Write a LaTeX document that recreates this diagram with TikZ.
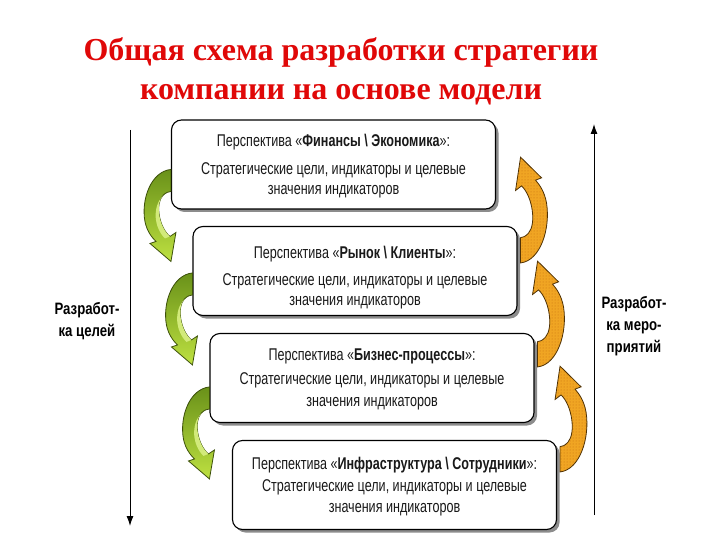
\documentclass[tikz,border=0pt]{standalone}
\usepackage{fontspec}
\setmainfont{Liberation Sans}
\newfontfamily\narfont[FakeStretch=0.74]{Liberation Sans}
\newfontfamily\sidefont[FakeStretch=0.8]{Liberation Sans}
\newfontfamily\titlefont{Liberation Serif}
\usetikzlibrary{arrows.meta,calc,shadows,patterns}
\definecolor{titlered}{RGB}{224,8,8}
\definecolor{gdark}{RGB}{60,80,10}
\definecolor{gA}{RGB}{105,145,25}
\definecolor{gB}{RGB}{190,225,65}
\definecolor{oA}{RGB}{240,165,35}
\definecolor{oDot}{RGB}{200,110,15}
\definecolor{oLine}{RGB}{80,50,5}
\definecolor{txt}{RGB}{25,25,25}
\tikzset{
  persp/.style={draw=black, line width=1.1pt, rounded corners=10pt, fill=white,
    minimum width=324pt, minimum height=89pt, inner sep=0pt,
    drop shadow={shadow xshift=3pt, shadow yshift=-3pt, fill=black!45, opacity=1}},
  boxtext/.style={align=center, text=txt, anchor=base, inner sep=0pt, font=\narfont\fontsize{17}{20}\selectfont},
  sidelabel/.style={align=center, text=black, font=\sidefont\bfseries\fontsize{16.5}{22}\selectfont},
  axisarrow/.style={line width=1pt, -{Latex[length=10pt,width=7pt]}},
  gnarrow/.pic={
    \shade[draw=gdark, line width=0.8pt, top color=gA, bottom color=gB]
      (0,0) .. controls (-20,2) and (-30,30) .. (-26,52)
      .. controls (-24,62) and (-19,68) .. (-15,72) -- (-21,74) -- (0,92) -- (5,63) -- (-1,67)
      .. controls (-12,58) and (-16,34) .. (-8,26) .. controls (-5,23) and (-2,22) .. (0,22) -- cycle;
    \fill[gB!70!white]
      (-8,26) .. controls (-16,34) and (-12,58) .. (-1,67) -- (-6,69)
      .. controls (-17,58) and (-19,38) .. (-8,26) -- cycle;
  },
  orarrow/.pic={
    \begin{scope}[rotate=180, yscale=1.15, xshift=-3pt]
    \fill[oA]
      (0,0) .. controls (-20,2) and (-30,30) .. (-26,52)
      .. controls (-24,62) and (-19,68) .. (-15,72) -- (-21,74) -- (0,92) -- (5,63) -- (-1,67)
      .. controls (-12,58) and (-16,34) .. (-8,26) .. controls (-5,23) and (-2,22) .. (0,22) -- cycle;
    \fill[pattern=dots, pattern color=oDot]
      (0,0) .. controls (-20,2) and (-30,30) .. (-26,52)
      .. controls (-24,62) and (-19,68) .. (-15,72) -- (-21,74) -- (0,92) -- (5,63) -- (-1,67)
      .. controls (-12,58) and (-16,34) .. (-8,26) .. controls (-5,23) and (-2,22) .. (0,22) -- cycle;
    \draw[oLine, line width=0.8pt]
      (0,0) .. controls (-20,2) and (-30,30) .. (-26,52)
      .. controls (-24,62) and (-19,68) .. (-15,72) -- (-21,74) -- (0,92) -- (5,63) -- (-1,67)
      .. controls (-12,58) and (-16,34) .. (-8,26) .. controls (-5,23) and (-2,22) .. (0,22) -- cycle;
    \end{scope}
  }
}
\begin{document}
\begin{tikzpicture}[x=1pt, y=-1pt]
\useasboundingbox (0,0) rectangle (720,540);
\fill[white] (0,0) rectangle (720,540);

% title
\node[text=titlered, font=\titlefont\bfseries\fontsize{32}{39}\selectfont, align=center, anchor=base]
  (title) at (341,100) {Общая схема разработки стратегии\\компании на основе модели};

% boxes
\node[persp] (b1) at (333.5,164.5) {};
\node[persp] (b2) at (355,271) {};
\node[persp] (b3) at (372,378) {};
\node[persp] (b4) at (394.5,485) {};

\node[boxtext] (t1a) at ($(b1.north)+(0,27)$) {Перспектива «\textbf{Финансы \textbackslash{} Экономика}»:};
\node[boxtext] (t1b) at ($(b1.north)+(0,55)$) {Стратегические цели, индикаторы и целевые};
\node[boxtext] (t1c) at ($(b1.north)+(0,75)$) {значения индикаторов};
\node[boxtext] (t2a) at ($(b2.north)+(0,33)$) {Перспектива «\textbf{Рынок \textbackslash{} Клиенты}»:};
\node[boxtext] (t2b) at ($(b2.north)+(0,60)$) {Стратегические цели, индикаторы и целевые};
\node[boxtext] (t2c) at ($(b2.north)+(0,80)$) {значения индикаторов};
\node[boxtext] (t3a) at ($(b3.north)+(0,28)$) {Перспектива «\textbf{Бизнес-процессы}»:};
\node[boxtext] (t3b) at ($(b3.north)+(0,52)$) {Стратегические цели, индикаторы и целевые};
\node[boxtext] (t3c) at ($(b3.north)+(0,74)$) {значения индикаторов};
\node[boxtext] (t4a) at ($(b4.north)+(0,30)$) {Перспектива «\textbf{Инфраструктура \textbackslash{} Сотрудники}»:};
\node[boxtext] (t4b) at ($(b4.north)+(0,52)$) {Стратегические цели, индикаторы и целевые};
\node[boxtext] (t4c) at ($(b4.north)+(0,73)$) {значения индикаторов};

% green arrows (left)
\pic at ($(b1.north west)+(0,50)$) {gnarrow};
\pic at ($(b2.north west)+(0,47)$) {gnarrow};
\pic at ($(b3.north west)+(0,54)$) {gnarrow};

% orange arrows (right)
\pic at ($(b2.north east)+(0,37)$) {orarrow};
\pic at ($(b3.north east)+(0,34)$) {orarrow};
\pic at ($(b4.north east)+(0,32)$) {orarrow};

% axes
\coordinate (ltop) at (130,130);
\coordinate (lbot) at (130,526);
\draw[axisarrow] (ltop) -- (lbot);
\coordinate (rbot) at (594,515);
\coordinate (rtop) at (594,124);
\draw[axisarrow] (rbot) -- (rtop);

\node[sidelabel] (lab1) at (87,321) {Разработ-\\ка целей};
\node[sidelabel] (lab2) at (634,326) {Разработ-\\ка меро-\\приятий};
\end{tikzpicture}
\end{document}
